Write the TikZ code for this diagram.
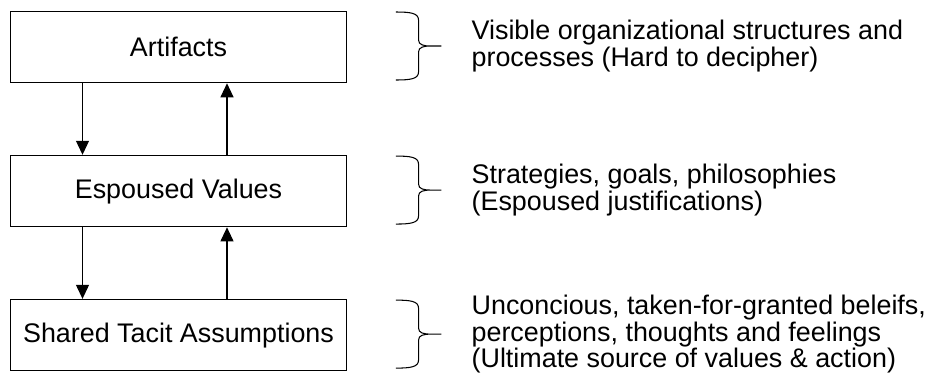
\documentclass[tikz,border=0pt]{standalone}
\usepackage{fontspec}
\setmainfont{Liberation Sans}
\usetikzlibrary{positioning,arrows.meta}

\begin{document}
\begin{tikzpicture}[ node distance = 1.43cm, > = {Triangle[length=0.28cm,width=0.26cm]},
level/.style={ rectangle, draw, line width=0.6pt, inner sep=0pt, minimum width = 6.73cm, minimum height = 1.43cm },
note/.style={ align=left, inner sep=0pt },
curlybrace/.pic={ \draw[line width=0.6pt] (-0.91,0.68) .. controls (-0.62,0.68) and (-0.455,0.66) .. (-0.455,0.52)
	-- (-0.455,0.12) .. controls (-0.455,0.02) and (-0.35,0) .. (-0.2,0) -- (0,0)
	-- (-0.2,0) .. controls (-0.35,0) and (-0.455,-0.02) .. (-0.455,-0.12)
	-- (-0.455,-0.52) .. controls (-0.455,-0.66) and (-0.62,-0.68) .. (-0.91,-0.68); }]
\fontsize{15.3pt}{15.2pt}\selectfont
\useasboundingbox (0,0) rectangle (18.6,-7.5);

\node (art) [level] at (3.57,-0.94) {Artifacts};
\node (esp) [level, below = of art] {Espoused Values};
\node (sta) [level, below = of esp] {Shared Tacit Assumptions};

%arrows between the levels
\draw [->, line width=0.6pt] ([xshift=-1.92cm]art.south) -- ([xshift=-1.92cm]esp.north);
\draw [->, line width=0.6pt] ([xshift=0.97cm]esp.north) -- ([xshift=0.97cm]art.south);
\draw [->, line width=0.6pt] ([xshift=-1.92cm]esp.south) -- ([xshift=-1.92cm]sta.north);
\draw [->, line width=0.6pt] ([xshift=0.97cm]sta.north) -- ([xshift=0.97cm]esp.south);

%braces and notes
\coordinate (arttip) at ([xshift=1.88cm, yshift=0.02cm]art.east);
\coordinate (esptip) at ([xshift=1.88cm, yshift=0.02cm]esp.east);
\coordinate (statip) at ([xshift=1.88cm, yshift=0.02cm]sta.east);
\foreach \t in {arttip, esptip, statip}
{
\pic at (\t) {curlybrace};
}

\node (artnote) [note, right = 0.6cm of arttip] {Visible organizational structures and\\processes (Hard to decipher)};
\node (espnote) [note, right = 0.6cm of esptip] {Strategies, goals, philosophies\\(Espoused justifications)};
\node (stanote) [note, right = 0.6cm of statip] {Unconcious, taken-for-granted beleifs,\\perceptions, thoughts and feelings\\(Ultimate source of values \& action)};

\end{tikzpicture}
\end{document}
